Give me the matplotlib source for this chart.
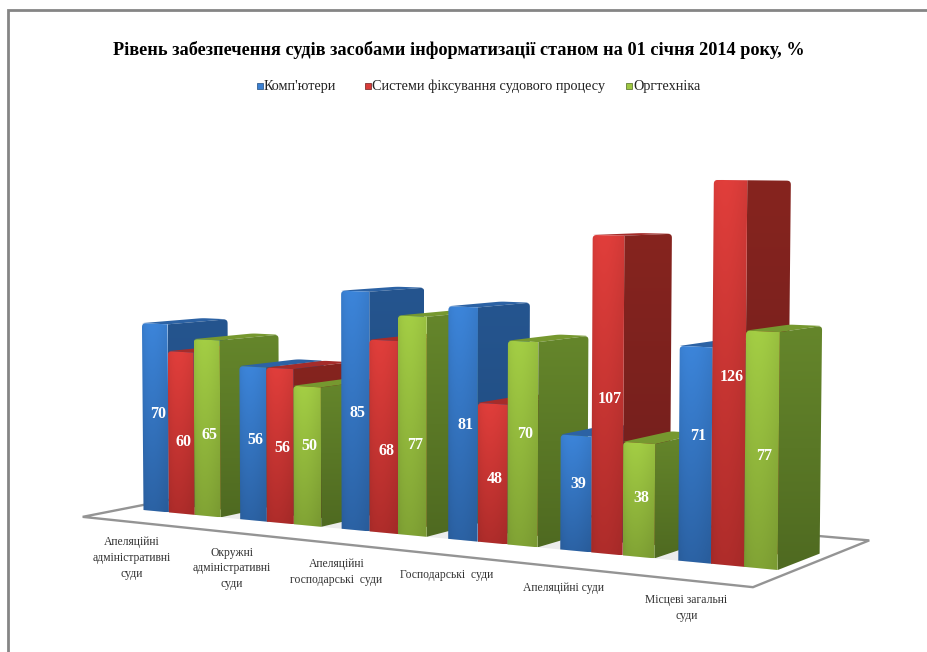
import numpy as np
import matplotlib.pyplot as plt
from matplotlib.colors import to_rgb
from matplotlib.patches import Polygon

plt.rcParams['font.family'] = ['Liberation Serif', 'DejaVu Serif']

title = 'Рівень забезпечення судів засобами інформатизації станом на 01 січня 2014 року, %'
series_names = ["Комп'ютери", 'Системи фіксування судового процесу', 'Оргтехніка']
categories = ['Апеляційні\nадміністративні\nсуди', 'Окружні\nадміністративні\nсуди',
              'Апеляційні\nгосподарські  суди', 'Господарські  суди',
              'Апеляційні суди', 'Місцеві загальні\nсуди']
computers = [70, 56, 85, 81, 39, 71]
recording = [60, 56, 68, 48, 107, 126]
office = [65, 50, 77, 70, 38, 77]

# (front top, front bottom, side top, side bottom, top face)
palette = [
    ('#3a80d2', '#2a5f9f', '#25558f', '#1f4a7c', '#2c62a4'),
    ('#d93c39', '#a92b29', '#86241f', '#6f1e1c', '#a52c2a'),
    ('#9ec742', '#7d9e33', '#65862b', '#4f6a21', '#76982f'),
]

STEP = 0.1723      # one category along the floor
BAR = 0.0461       # one bar
K_H = 2.67         # px per unit at the front left


def project(x, y, z):
    # hand fitted perspective: x along the floor, y into the picture, z up
    w = 1 - 0.136 * x + 0.039 * y
    u = (143.5 + 528.5 * x + 68.25 * y) / w
    v = (510 - 17.5 * x + 7.41 * y - K_H * z) / w
    # verticals lean outward a little
    u += 8e-5 * (u - 420) * z
    return u, v


def rounded(pts, corners, r=4.0):
    # swap the listed corners of a polygon for small curves
    pts = np.array(pts, dtype=float)
    out = []
    n = len(pts)
    for k in range(n):
        p = pts[k]
        if k not in corners:
            out.append(p)
            continue
        a, b = pts[k - 1] - p, pts[(k + 1) % n] - p
        a = p + a / np.hypot(*a) * min(r, np.hypot(*a) / 2)
        b = p + b / np.hypot(*b) * min(r, np.hypot(*b) / 2)
        for t in np.linspace(0, 1, 7):
            out.append((1 - t) ** 2 * a + 2 * t * (1 - t) * p + t ** 2 * b)
    return np.array(out)


def shaded(ax, poly, col_top, col_bot, zorder, sheen=0.0):
    # vertical gradient clipped to the face outline
    poly = np.array(poly)
    c0, c1 = np.array(to_rgb(col_top)), np.array(to_rgb(col_bot))
    t = np.linspace(0, 1, 64)[:, None, None]
    across = np.linspace(0, 1, 16)[None, :, None]
    img = c0 + (c1 - c0) * t
    img = img * (1 + sheen * (np.sin(np.pi * across ** 0.7) - 0.5))
    extent = [poly[:, 0].min(), poly[:, 0].max(), poly[:, 1].max(), poly[:, 1].min()]
    im = ax.imshow(np.clip(img, 0, 1), extent=extent, aspect='auto', origin='upper',
                   interpolation='bilinear', zorder=zorder)
    im.set_clip_path(Polygon(poly, transform=ax.transData))


fig = plt.figure(figsize=(9.27, 6.52), dpi=100)
ax = fig.add_axes([0, 0, 1, 1])
ax.set_xlim(0, 927)
ax.set_ylim(652, 0)
ax.autoscale(False)
ax.axis('off')

# frame, only top and left show
ax.plot([8.5, 8.5, 927], [652, 10, 10], color='#858585', lw=2.0, solid_joinstyle='miter', zorder=1)

# floor, with the soft shade under the bars
floor = [project(-0.032, -0.67, 0), project(1.02, -0.876, 0),
         project(1.0186, 1.95, 0), project(-0.032, 1.95, 0)]
ax.fill(*zip(*floor), facecolor='white', edgecolor='#949494', lw=1.7, zorder=2)
shade = [project(0, 0, 0), project(1, 0, 0), project(1, 1, 0), project(0, 1, 0)]
ax.fill(*zip(*shade), facecolor='#ececec', edgecolor='none', zorder=2)

zo = 3
for i in range(len(categories)):
    values = [computers[i], recording[i], office[i]]
    for j, val in enumerate(values):
        x0 = i * STEP + j * BAR
        x1 = x0 + BAR
        front_t, front_b, side_t, side_b, top_c = palette[j]

        # top face and side first, the front sits over them
        top = [project(x0, 0, val), project(x1, 0, val), project(x1, 1, val), project(x0, 1, val)]
        ax.add_patch(Polygon(rounded(top, [2, 3], r=4), facecolor=top_c, edgecolor='none', zorder=zo))
        side = [project(x1, 0, val), project(x1, 1, val), project(x1, 1, 0), project(x1, 0, 0)]
        shaded(ax, rounded(side, [1], r=4), side_t, side_b, zo + 1)
        front = [project(x0, 0, val), project(x1, 0, val), project(x1, 0, 0), project(x0, 0, 0)]
        shaded(ax, rounded(front, [0], r=4), front_t, front_b, zo + 2, sheen=0.07)
        zo += 3

# value labels, a bit off centre as in the source
label_nudge = [[-3, 9, 7], [-4, 2, -10], [2, 14, 19], [1, 6, -10], [-9, 4, -2], [-18, 4, 6]]
for i in range(len(categories)):
    values = [computers[i], recording[i], office[i]]
    for j, val in enumerate(values):
        xc = i * STEP + (j + 0.5) * BAR
        u, v = project(xc, 0, val / 2)
        ax.text(u + 2.5, v + label_nudge[i][j], str(val), color='white', fontsize=11.5, fontweight='bold',
                ha='center', va='center', zorder=500)

# category labels hang from the floor edge
for i, name in enumerate(categories):
    u, v = project(i * STEP + 1.5 * BAR, -0.76, 0)
    ax.text(u - 1.5 - 0.7 * i, v + 12.5 + 0.7 * i, name, fontsize=8.4, color='#333333', ha='center', va='top',
            linespacing=1.42, zorder=500)

ax.text(459, 50, title, fontsize=13.15, fontweight='bold', color='black', ha='center', va='center')

# legend
legend_marks = [260.5, 368.5, 629.5]
for name, xm, pal in zip(series_names, legend_marks, palette):
    ax.scatter([xm], [86], marker='s', s=20, color=pal[0], edgecolors=pal[3], linewidths=0.5)
    ax.text(xm + 3.5, 86.5, name, fontsize=10.25, color='#222222', ha='left', va='center')

fig.savefig('out.png', dpi=100)
